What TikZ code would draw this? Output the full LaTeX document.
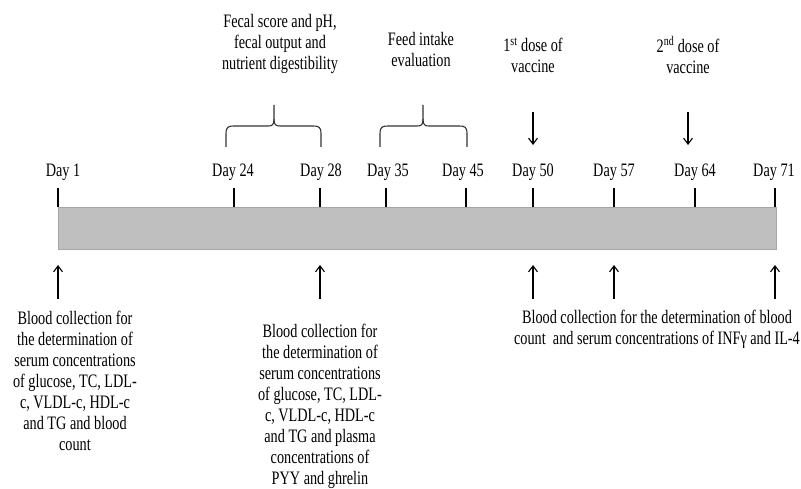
\documentclass[tikz,border=0pt]{standalone}
\usepackage{fontspec}
\setmainfont[FakeStretch=0.75]{Liberation Serif}
\usetikzlibrary{arrows.meta}
\tikzset{
  lbl/.style={inner sep=0pt, align=center, font=\fontsize{19}{21}\selectfont, text=black},
  tick/.style={line width=1.2pt},
  arr/.style={line width=1.1pt, -{Straight Barb[length=6pt,width=9pt,line width=1.1pt]}},
  brace/.style={line width=1.1pt, black!80},
  bar/.style={fill=black!25, draw=black!35, line width=0.8pt}
}
\begin{document}
\begin{tikzpicture}[x=1pt,y=-1pt]
\useasboundingbox (0,0) rectangle (801,489);
% bar
\node[bar, minimum width=718pt, minimum height=42pt, inner sep=0pt, anchor=north west] (bar) at (58,207) {};
% tick coordinates on bar top
\foreach \n/\x in {d1/58,d24/234,d28/320,d35/386,d45/466,d50/533,d57/614,d64/695,d71/775}{
  \coordinate (\n b) at (\x,207);
  \coordinate (\n t) at (\x,188);
}
\draw[tick] (d1b) -- (d1t);
\draw[tick] (d24b) -- (d24t);
\draw[tick] (d28b) -- (d28t);
\draw[line width=2pt] (d35b) -- (d35t);
\draw[tick] (d45b) -- (d45t);
\draw[tick] (d50b) -- (d50t);
\draw[tick] (d57b) -- (d57t);
\draw[tick] (d64b) -- (d64t);
\draw[tick] (d71b) -- (d71t);
% day labels
\node[lbl] (L1) at (63,172) {Day 1};
\node[lbl] (L24) at (233,172) {Day 24};
\node[lbl] (L28) at (321,172) {Day 28};
\node[lbl] (L35) at (388,172) {Day 35};
\node[lbl] (L45) at (463,172) {Day 45};
\node[lbl] (L50) at (533,172) {Day 50};
\node[lbl] (L57) at (614,172) {Day 57};
\node[lbl] (L64) at (695,172) {Day 64};
\node[lbl] (L71) at (774,172) {Day 71};
% top texts
\node[lbl] (fecal) at (280,44) {Fecal score and pH,\\fecal output and\\nutrient digestibility};
\node[lbl] (feed) at (421,50) {Feed intake\\evaluation};
\node[lbl] (dose1) at (533,55) {1\textsuperscript{st} dose of\\vaccine};
\node[lbl] (dose2) at (688,55) {2\textsuperscript{nd} dose of\\vaccine};
% braces
\draw[brace] (226,147) -- (226,134) .. controls (226,127) and (228,126) .. (234,126) -- (268,126)
  .. controls (272,126) and (274,125) .. (274,119) -- (274,105);
\draw[brace] (321,147) -- (321,134) .. controls (321,127) and (319,126) .. (313,126) -- (280,126)
  .. controls (276,126) and (274,125) .. (274,119);
\draw[brace] (380,147) -- (380,134) .. controls (380,127) and (382,126) .. (388,126) -- (417,126)
  .. controls (421,126) and (423,125) .. (423,119) -- (423,105);
\draw[brace] (467,147) -- (467,134) .. controls (467,127) and (465,126) .. (459,126) -- (429,126)
  .. controls (425,126) and (423,125) .. (423,119);
% down arrows
\coordinate (a50s) at (533,112); \coordinate (a50e) at (533,145);
\coordinate (a64s) at (688,112); \coordinate (a64e) at (688,145);
\draw[arr] (a50s) -- (a50e);
\draw[arr] (a64s) -- (a64e);
% up arrows
\foreach \n/\x in {u1/58,u28/320,u50/533,u57/614,u71/775}{
  \coordinate (\n s) at (\x,299);
  \coordinate (\n e) at (\x,265);
}
\draw[arr] (u1s) -- (u1e);
\draw[arr] (u28s) -- (u28e);
\draw[arr] (u50s) -- (u50e);
\draw[arr] (u57s) -- (u57e);
\draw[arr] (u71s) -- (u71e);
% bottom texts
\node[lbl] (b1) at (75,381) {Blood collection for\\the determination of\\serum concentrations\\of glucose, TC, LDL-\\c, VLDL-c, HDL-c\\and TG and blood\\count};
\node[lbl] (b2) at (320,406) {Blood collection for\\the determination of\\serum concentrations\\of glucose, TC, LDL-\\c, VLDL-c, HDL-c\\and TG and plasma\\concentrations of\\PYY and ghrelin};
\node[lbl] (b3) at (657,329) {Blood collection for the determination of blood\\count\ \ and serum concentrations of INFγ and IL-4};
\end{tikzpicture}
\end{document}
